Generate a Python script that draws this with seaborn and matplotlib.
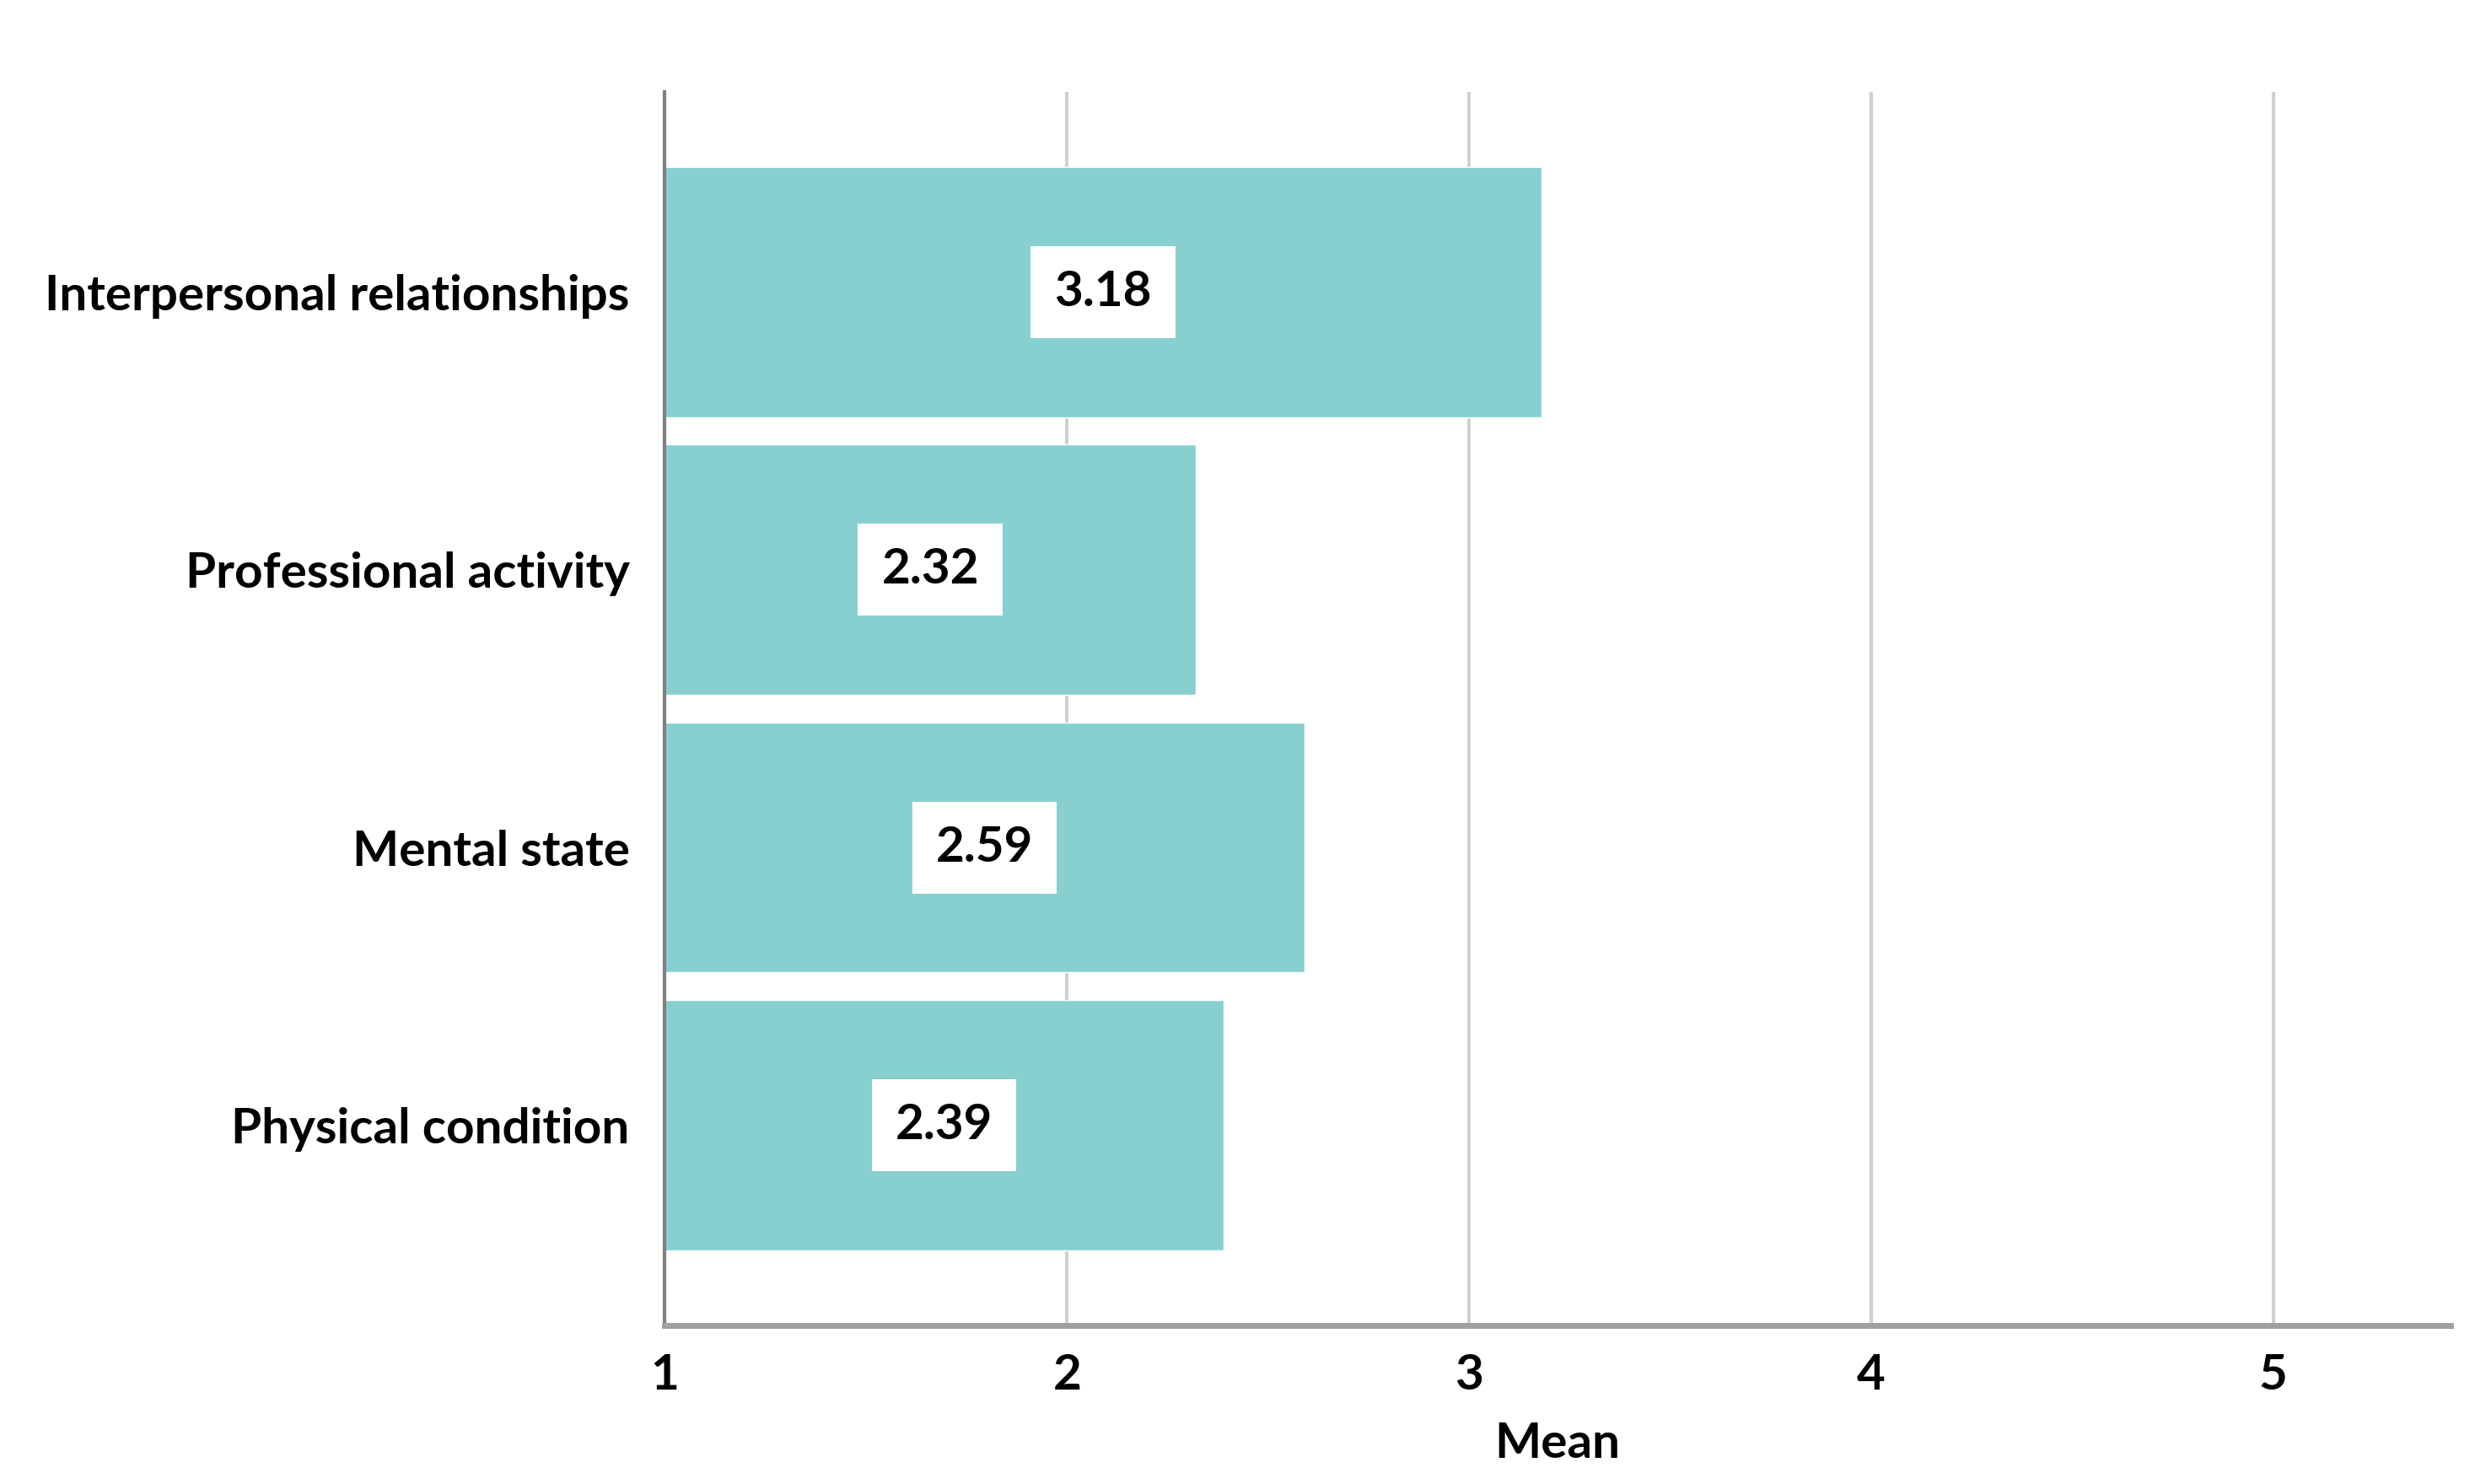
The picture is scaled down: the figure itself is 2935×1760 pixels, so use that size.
import matplotlib
matplotlib.use("Agg")
import matplotlib.pyplot as plt
import seaborn as sns
import pandas as pd

# data
categories = ["Interpersonal relationships", "Professional activity", "Mental state", "Physical condition"]
means = [3.18, 2.32, 2.59, 2.39]
xticks = [1, 2, 3, 4, 5]

df = pd.DataFrame({"Category": categories, "Mean": means})
# the axis starts at 1, so bars are drawn as the length from 1
df["Length"] = df["Mean"] - 1

sns.set_style("white")
plt.rcParams['font.family'] = ['Lato', 'DejaVu Sans']
plt.rcParams['font.weight'] = 'bold'

fig = plt.figure(figsize=(29.35, 17.6), dpi=100)
ax = fig.add_axes([0.2686, 0.107, 0.990 - 0.2686, 0.831])

sns.barplot(data=df, y="Category", x="Length", orient="h", color="#88CFD0",
            saturation=1, width=0.9, ax=ax, left=1)

ax.set_xlim(1, 5.44)
ax.set_ylim(3.72, -0.72)
ax.set_xticks(xticks)
ax.set_xticklabels([str(t) for t in xticks], fontsize=42, fontweight="bold", color="black")
ax.set_axisbelow(True)
ax.grid(axis="x", color="#d0d0d0", linewidth=3)
ax.grid(axis="y", visible=False)
ax.tick_params(axis="y", length=0, pad=30)
ax.tick_params(axis="x", length=0, pad=24)
for lab in ax.get_yticklabels():
    lab.set_fontsize(42)
    lab.set_fontweight("bold")
    lab.set_color("black")

ax.set_ylabel("")
ax.set_xlabel("Mean", fontsize=42, fontweight="bold", labelpad=20, color="black")

for s in ["top", "right"]:
    ax.spines[s].set_visible(False)
ax.spines["left"].set_color("#808080")
ax.spines["left"].set_linewidth(3)
ax.spines["bottom"].set_color("#a0a0a0")
ax.spines["bottom"].set_linewidth(5)

# value labels in white boxes, centred on each bar
for i, v in enumerate(means):
    ax.text((1 + v) / 2, i, f"{v:.2f}", ha="center", va="center",
            fontsize=42, fontweight="bold", color="black",
            bbox=dict(facecolor="white", edgecolor="none", pad=20))

fig.savefig("out.png", dpi=100, facecolor="white")
